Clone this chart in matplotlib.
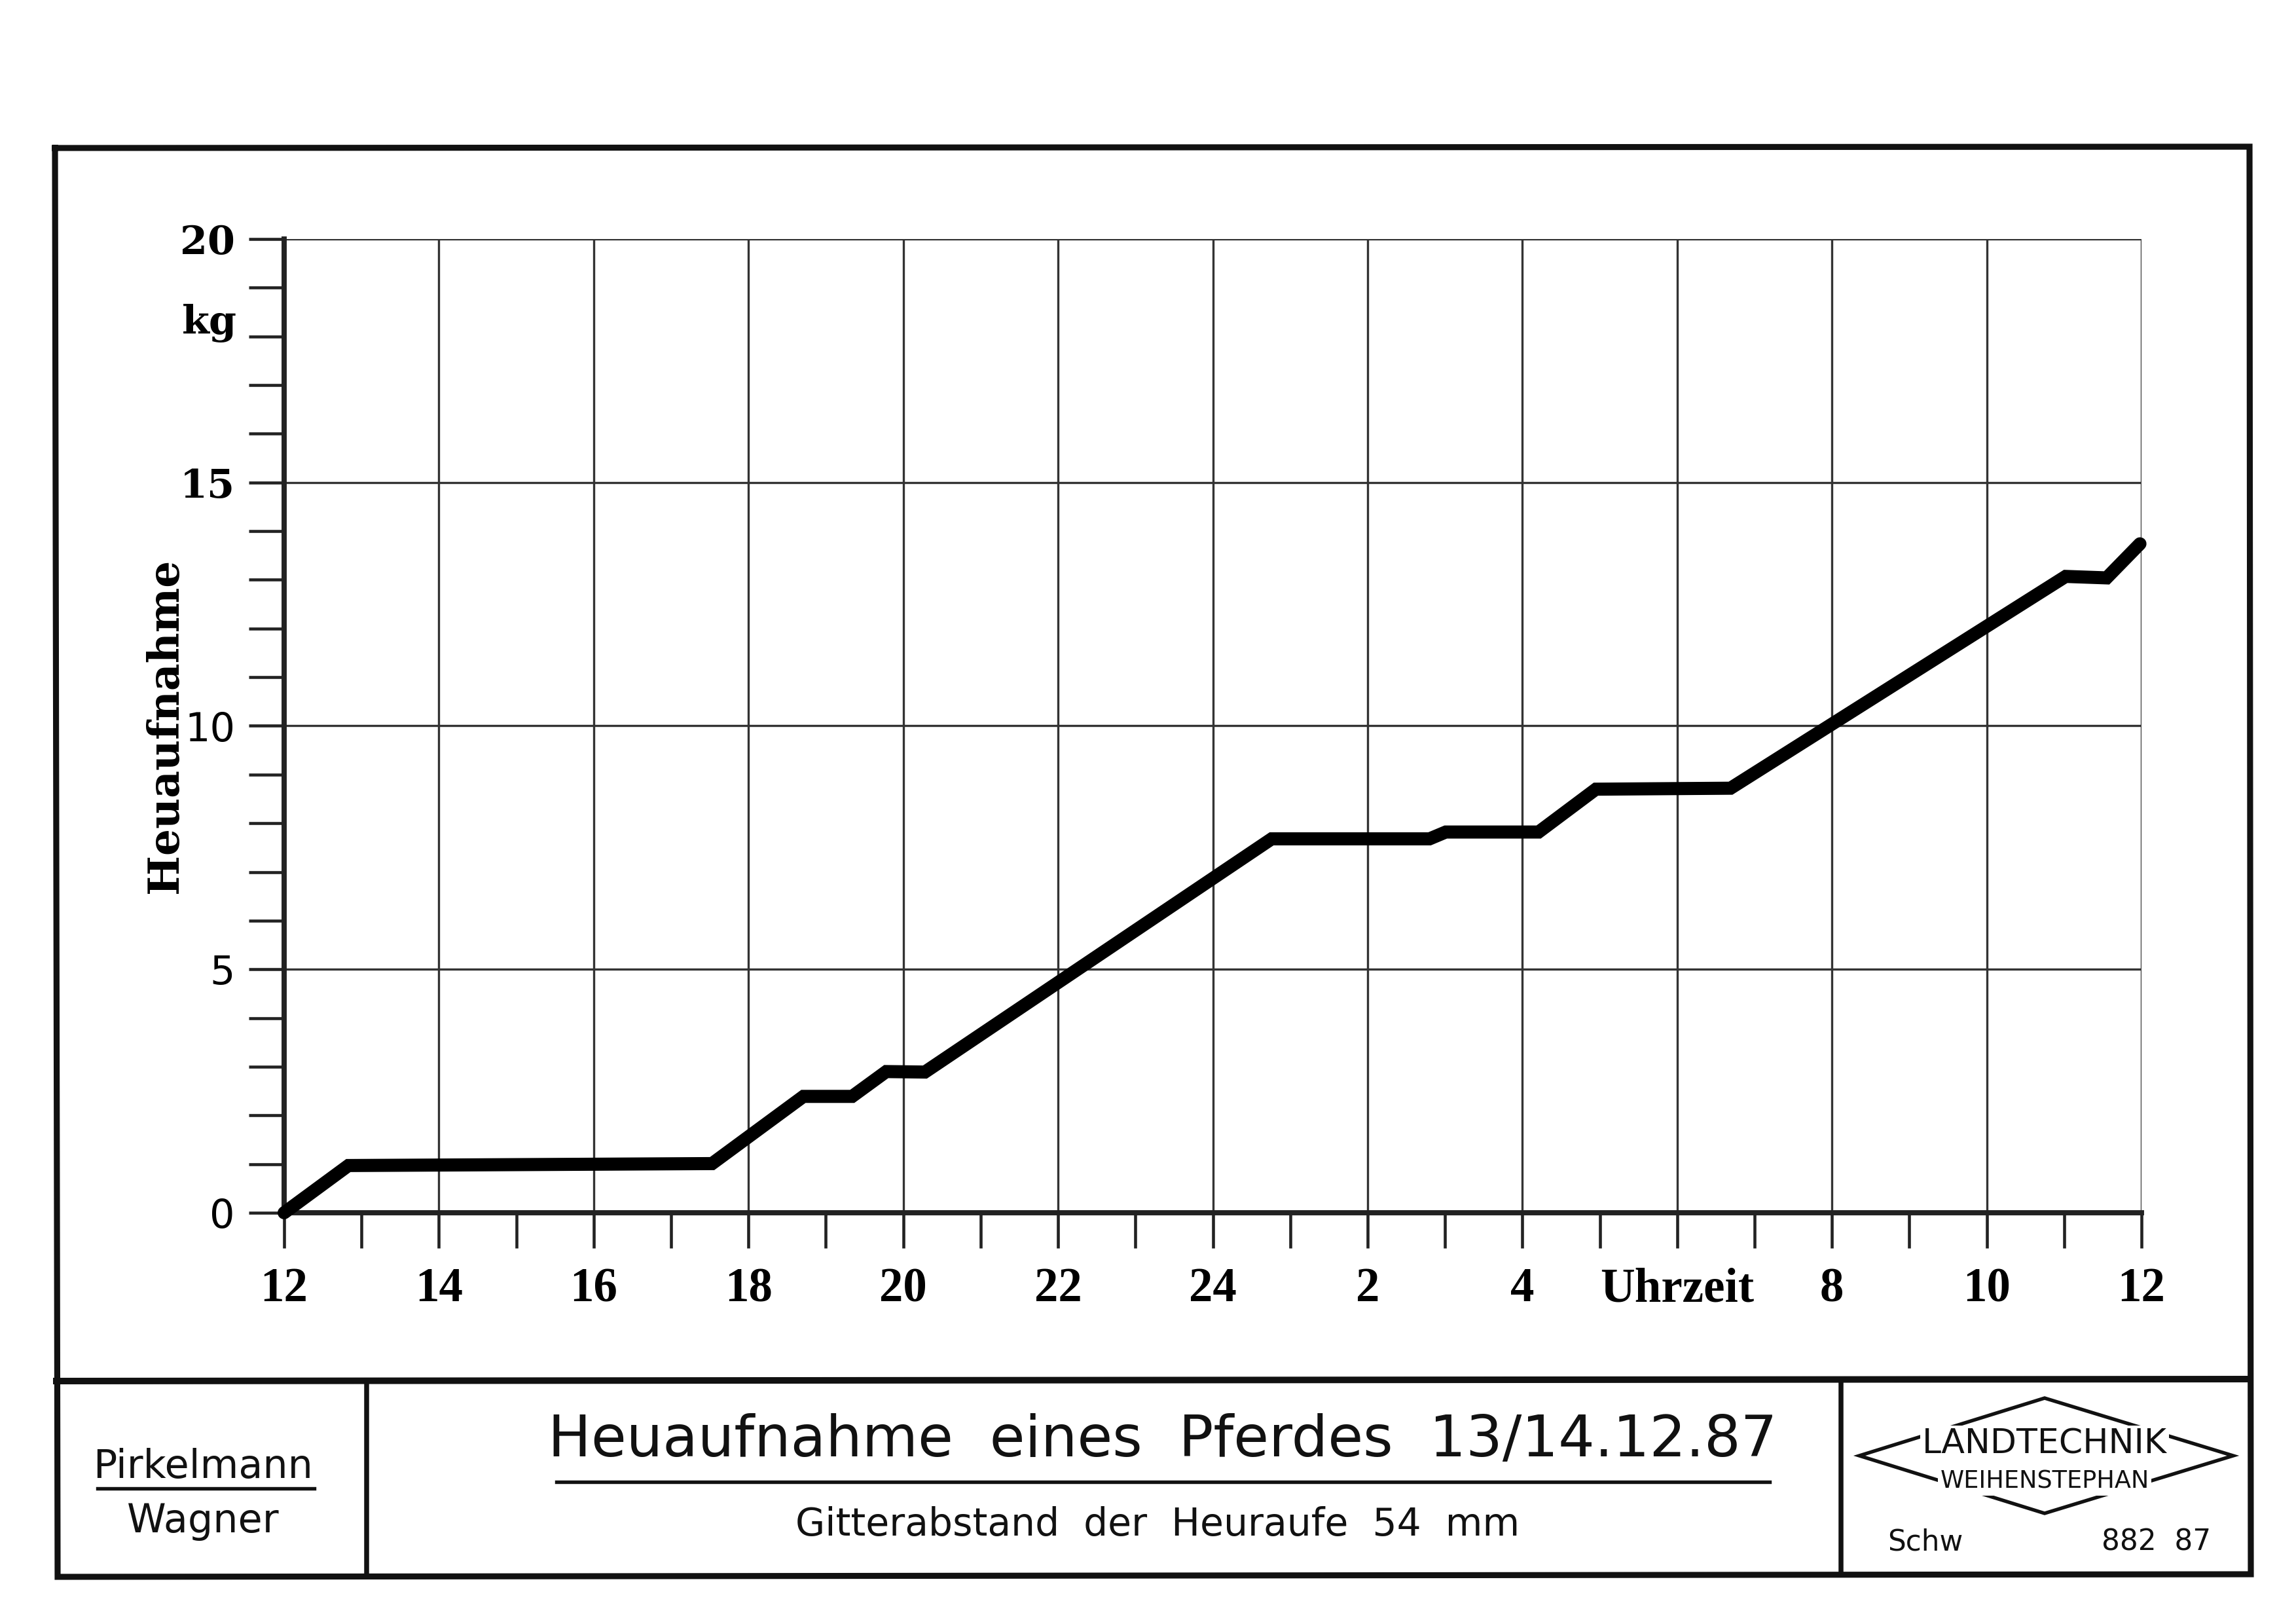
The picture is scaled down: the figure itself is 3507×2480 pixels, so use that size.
import matplotlib
matplotlib.use("Agg")
import matplotlib.pyplot as plt
from matplotlib.ticker import MultipleLocator
from matplotlib.patches import Polygon

# ---------------- data ----------------
hours = [12.0, 12.83, 17.53, 18.71, 19.34, 19.78, 20.28, 24.76, 26.80, 27.01,
         28.21, 28.95, 30.69, 35.02, 35.55, 35.98]
heu_kg = [0.0, 0.97, 1.01, 2.39, 2.39, 2.90, 2.89, 7.68, 7.68, 7.82,
          7.82, 8.70, 8.72, 13.07, 13.04, 13.74]

x_tick_pos = list(range(12, 37, 2))
x_tick_labels = ['12', '14', '16', '18', '20', '22', '24', '2', '4', 'Uhrzeit', '8', '10', '12']
y_tick_pos = [0, 5, 10, 15, 20]
y_tick_labels = ['0', '5', '10', '15', '20']

title = "Heuaufnahme  eines  Pferdes  13/14.12.87"
subtitle = "Gitterabstand  der  Heuraufe  54  mm"
authors = ["Pirkelmann", "Wagner"]

W, H = 3507, 2480
fig = plt.figure(figsize=(W / 300, H / 300), dpi=300)
fig.patch.set_facecolor('white')

# overlay axes in pixel coordinates for the drawing frame
ov = fig.add_axes([0, 0, 1, 1], zorder=0)
ov.set_xlim(0, W)
ov.set_ylim(H, 0)
ov.axis('off')

ink = '#111111'
# outer frame
ov.plot([84, 3436, 3438, 88, 84], [226, 224, 2404, 2408, 226], color=ink, lw=2.2,
        solid_joinstyle='miter')
# footer separator
ov.plot([86, 3437], [2109, 2106], color=ink, lw=2.4)
# footer dividers
ov.plot([560, 560], [2109, 2406], color=ink, lw=1.8)
ov.plot([2812, 2812], [2106, 2404], color=ink, lw=1.8)

# authors
ov.text(310, 2240, authors[0], ha='center', va='center', fontsize=14.5,
        family='DejaVu Sans', color=ink)
ov.plot([149, 480], [2273, 2273], color=ink, lw=1.3)
ov.text(310, 2323, authors[1], ha='center', va='center', fontsize=14.5,
        family='DejaVu Sans', color=ink)

# title block
ov.text(1776, 2200, title, ha='center', va='center', fontsize=21,
        family='DejaVu Sans', color=ink)
ov.plot([850, 2703], [2263, 2263], color=ink, lw=1.3)
ov.text(1768, 2328, subtitle, ha='center', va='center', fontsize=14,
        family='DejaVu Sans', color=ink)

# logo
ov.add_patch(Polygon([[2840, 2223], [3123, 2135], [3411, 2223], [3123, 2311]],
                     closed=True, fill=False, edgecolor=ink, lw=1.3))
ov.text(3123, 2205, "LANDTECHNIK", ha='center', va='center', fontsize=12.5,
        family=['Liberation Sans Narrow', 'DejaVu Sans'], color=ink,
        bbox=dict(boxstyle='square,pad=0.05', fc='white', ec='none'))
ov.text(3123, 2262, "WEIHENSTEPHAN", ha='center', va='center', fontsize=8.8,
        family=['Liberation Sans Narrow', 'DejaVu Sans'], color=ink,
        bbox=dict(boxstyle='square,pad=0.1', fc='white', ec='none'))
ov.text(2941, 2355, "Schw", ha='center', va='center', fontsize=10.5,
        family='DejaVu Sans', color=ink)
ov.text(3294, 2355, "882  87", ha='center', va='center', fontsize=10.5,
        family='DejaVu Sans', color=ink)

# ---------------- main chart ----------------
left, right, top, bottom = 434, 3271, 365, 1852
ax = fig.add_axes([left / W, 1 - bottom / H, (right - left) / W, (bottom - top) / H], zorder=2)
ax.patch.set_alpha(0)
ax.set_xlim(12, 36)
ax.set_ylim(0, 20)

ax.plot(hours, heu_kg, color='black', lw=4.8, solid_capstyle='round',
        solid_joinstyle='miter', zorder=5, clip_on=False)

for s in ['top', 'right']:
    ax.spines[s].set_visible(False)
for s in ['left', 'bottom']:
    ax.spines[s].set_linewidth(1.9)
    ax.spines[s].set_color('#222222')

ax.set_xticks(x_tick_pos)
ax.set_xticklabels(x_tick_labels)
ax.xaxis.set_minor_locator(MultipleLocator(1))
ax.set_yticks(y_tick_pos)
ax.set_yticklabels(y_tick_labels)
ax.yaxis.set_minor_locator(MultipleLocator(1))

ax.tick_params(axis='x', which='both', direction='out', length=13, width=1.1,
               color='#222222', pad=7)
ax.tick_params(axis='y', which='both', direction='out', length=13, width=1.1,
               color='#222222', pad=5)

for lab in ax.get_xticklabels():
    lab.set_fontfamily('Liberation Serif')
    lab.set_fontweight('bold')
    lab.set_fontsize(17.5)
for lab in ax.get_yticklabels():
    if lab.get_text() in ('15', '20'):
        lab.set_fontfamily('DejaVu Serif')
        lab.set_fontweight('bold')
        lab.set_fontsize(14.5)
    else:
        lab.set_fontfamily('DejaVu Sans')
        lab.set_fontsize(14.5)

ax.grid(True, which='major', color='#333333', lw=0.8)
ax.set_axisbelow(True)

ax.text(-0.0254, 18.05, "kg", transform=ax.get_yaxis_transform(), ha='right',
        va='baseline', fontsize=14.5, fontweight='bold', family='DejaVu Serif')
ax.text(-0.0638, 0.50, "Heuaufnahme", transform=ax.transAxes, rotation=90,
        ha='center', va='center', fontsize=15.5, fontweight='bold', family='DejaVu Serif')

fig.savefig('out.png', dpi=300)
